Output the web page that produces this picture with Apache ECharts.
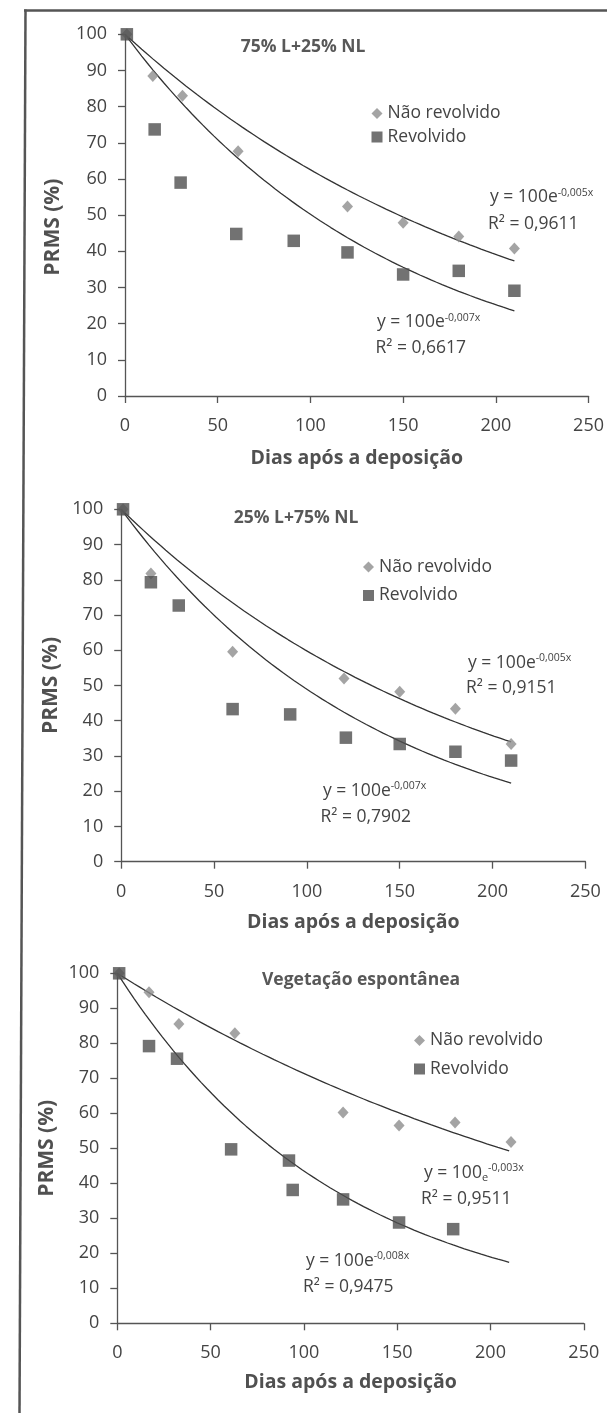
<!DOCTYPE html>
<html><head><meta charset="utf-8">
<script src="https://cdn.jsdelivr.net/npm/echarts@6/dist/echarts.min.js"></script>
<style>html,body{margin:0;padding:0;background:#fff}#c{width:607px;height:1413px}</style>
</head><body><div id="c"></div>
<script>
// ---------- data ----------
const panelTitles = ['75% L+25% NL', '25% L+75% NL', 'Vegetação espontânea'];
const seriesNames = ['Não revolvido', 'Revolvido'];
const xAxisName = 'Dias após a deposição';
const yAxisName = 'PRMS (%)';

// Panel 1: 75% L+25% NL
const p1NaoX = [1, 15, 31, 61, 120, 150, 180, 210];
const p1NaoY = [100, 88.5, 83.0, 67.7, 52.4, 47.9, 44.1, 40.8];
const p1RevX = [1, 16, 30, 60, 91, 120, 150, 180, 210];
const p1RevY = [100, 73.7, 59.0, 44.8, 42.9, 39.7, 33.6, 34.6, 29.1];
// Panel 2: 25% L+75% NL
const p2NaoX = [1, 16, 60, 120, 150, 180, 210];
const p2NaoY = [100, 81.8, 59.6, 52.0, 48.2, 43.4, 33.4];
const p2RevX = [1, 16, 31, 60, 91, 121, 150, 180, 210];
const p2RevY = [100, 79.3, 72.7, 43.3, 41.8, 35.2, 33.4, 31.2, 28.7];
// Panel 3: Vegetação espontânea
const p3NaoX = [1, 17, 33, 63, 121, 151, 181, 211];
const p3NaoY = [100, 94.6, 85.5, 82.9, 60.2, 56.5, 57.4, 51.8];
const p3RevX = [1, 17, 32, 61, 92, 94, 121, 151, 180];
const p3RevY = [100, 79.2, 75.6, 49.7, 46.5, 38.1, 35.4, 28.8, 26.9];

// trendline labels (as printed)
const eqNaoExp = ['-0,005x', '-0,005x', '-0,003x'];
const r2Nao = ['0,9611', '0,9151', '0,9511'];
const eqRevExp = ['-0,007x', '-0,007x', '-0,008x'];
const r2Rev = ['0,6617', '0,7902', '0,9475'];
const trendEnd = 210;

// ---------- helpers ----------
const F = '"Open Sans", sans-serif';
const TXT = '#444';
function pairs(xs, ys) { return xs.map((x, i) => [x, ys[i]]); }
// exponential trendline y = 100 e^(b x), b fitted from the data (intercept fixed at 100)
function expTrend(xs, ys) {
  let num = 0, den = 0;
  xs.forEach((x, i) => { num += x * Math.log(ys[i] / 100); den += x * x; });
  const b = num / den, pts = [];
  for (let x = 0; x <= trendEnd; x += 3) pts.push([x, 100 * Math.exp(b * x)]);
  return pts;
}

const panels = [
  { nao: [p1NaoX, p1NaoY], rev: [p1RevX, p1RevY],
    grid: { left: 125, top: 34.3, width: 471, height: 361.7 },
    yGap: 61, yPad: [0, 24, 0, 0], xGap: 52,
    legend: { left: 371.5, top: 104.5, gap: 5.5 },
    title: [303, 47],
    eqN: [490, 197.5], rN: [488, 224], eqR: [377, 322.5], rR: [375.5, 348] },
  { nao: [p2NaoX, p2NaoY], rev: [p2RevX, p2RevY],
    grid: { left: 121.2, top: 509.3, width: 464.2, height: 352.4 },
    yGap: 58.5, yPad: [0, 0, 0, 0], xGap: 50.5,
    legend: { left: 363, top: 558, gap: 10.5 },
    title: [296, 518],
    eqN: [468, 662.7], rN: [466, 688], eqR: [323, 790.7], rR: [320.5, 817] },
  { nao: [p3NaoX, p3NaoY], rev: [p3RevX, p3RevY],
    grid: { left: 117.3, top: 973.3, width: 466.5, height: 350 },
    yGap: 56.5, yPad: [0, 0, 0, 0], xGap: 49.5,
    legend: { left: 414, top: 1031.5, gap: 10.5 },
    title: [361, 980],
    eqN: [424, 1173], rN: [421, 1199], eqR: [306, 1260.7], rR: [303, 1287], smallE: true }
];

const axisLineStyle = { color: '#555', width: 1.3 };
const grid = [], xAxis = [], yAxis = [], series = [], legend = [], graphic = [];

panels.forEach((p, i) => {
  grid.push(Object.assign({ containLabel: false }, p.grid));
  xAxis.push({
    type: 'value', gridIndex: i, min: 0, max: 250, interval: 50,
    name: xAxisName, nameLocation: 'middle', nameGap: p.xGap,
    nameTextStyle: { fontFamily: F, fontSize: 19.5, fontWeight: 'bold', color: '#505050' },
    axisLine: { show: true, lineStyle: axisLineStyle },
    axisTick: { show: true, length: 7, lineStyle: axisLineStyle },
    axisLabel: { fontFamily: F, fontSize: 18, color: TXT, margin: 21 },
    splitLine: { show: false }
  });
  yAxis.push({
    type: 'value', gridIndex: i, min: 0, max: 100, interval: 10,
    name: yAxisName, nameLocation: 'middle', nameGap: p.yGap,
    nameTextStyle: { fontFamily: F, fontSize: 21, fontWeight: 'bold', color: '#505050', padding: p.yPad },
    axisLine: { show: true, lineStyle: axisLineStyle },
    axisTick: { show: true, length: 7, lineStyle: axisLineStyle },
    axisLabel: { fontFamily: F, fontSize: 18, color: TXT, margin: 18 },
    splitLine: { show: false }
  });
  // trendlines
  [p.nao, p.rev].forEach(d => {
    series.push({
      type: 'line', xAxisIndex: i, yAxisIndex: i, data: expTrend(d[0], d[1]),
      showSymbol: false, smooth: false, silent: true, z: 1,
      lineStyle: { color: '#333', width: 1.3 }
    });
  });
  series.push({
    name: seriesNames[0], type: 'scatter', xAxisIndex: i, yAxisIndex: i,
    data: pairs(p.nao[0], p.nao[1]), symbol: 'diamond', symbolSize: [11, 12], z: 2,
    itemStyle: { color: '#8d8d8d' }
  });
  series.push({
    name: seriesNames[1], type: 'scatter', xAxisIndex: i, yAxisIndex: i,
    data: pairs(p.rev[0], p.rev[1]), symbol: 'rect', symbolSize: 12.5, z: 3,
    itemStyle: { color: '#4f4f4f' }
  });
  legend.push({
    orient: 'vertical', left: p.legend.left, top: p.legend.top, padding: 0,
    itemGap: p.legend.gap, itemWidth: 11, itemHeight: 11, selectedMode: false,
    textStyle: { fontFamily: F, fontSize: 17.5, color: TXT },
    data: [{ name: seriesNames[0], icon: 'diamond' }, { name: seriesNames[1], icon: 'rect' }]
  });
  // panel title
  graphic.push({ type: 'text', x: p.title[0], y: p.title[1], z: 10,
    style: { text: panelTitles[i], fontFamily: F, fontSize: 17.5, fontWeight: 'bold', fill: '#585858', align: 'center', verticalAlign: 'middle' } });
  // equations
  const rich = {
    m: { fontFamily: F, fontSize: 17.5, lineHeight: 20, fill: TXT, verticalAlign: 'middle' },
    e: { fontFamily: F, fontSize: 11, lineHeight: 13, fill: TXT, verticalAlign: 'bottom' },
    s: { fontFamily: F, fontSize: 10.5, lineHeight: 12, fill: TXT, verticalAlign: 'top' }
  };
  const eq = (pos, exp, smallE) => ({
    type: 'text', x: pos[0], y: pos[1], z: 10,
    style: { text: smallE ? '{m|y = 100}{e|e}{s|' + exp + '}' : '{m|y = 100e}{s|' + exp + '}',
      rich: rich, fontFamily: F, fontSize: 17.5, fill: TXT, align: 'left', verticalAlign: 'middle' }
  });
  const r2 = (pos, v) => ({ type: 'text', x: pos[0], y: pos[1], z: 10,
    style: { text: 'R² = ' + v, fontFamily: F, fontSize: 17.5, fill: TXT, align: 'left', verticalAlign: 'middle' } });
  graphic.push(eq(p.eqN, eqNaoExp[i], p.smallE));
  graphic.push(r2(p.rN, r2Nao[i]));
  graphic.push(eq(p.eqR, eqRevExp[i], false));
  graphic.push(r2(p.rR, r2Rev[i]));
});

// outer frame (top and left edges of the scanned box)
graphic.push({ type: 'line', z: 20, shape: { x1: 24, y1: 10.5, x2: 607, y2: 10.5 }, style: { stroke: '#555', lineWidth: 2.5 } });
graphic.push({ type: 'line', z: 20, shape: { x1: 25.5, y1: 9.5, x2: 19.5, y2: 1413 }, style: { stroke: '#555', lineWidth: 2.5 } });

const chart = echarts.init(document.getElementById('c'), null, { renderer: 'canvas' });
chart.setOption({
  backgroundColor: '#fff', animation: false,
  grid, xAxis, yAxis, series, legend, graphic
});
</script></body></html>
